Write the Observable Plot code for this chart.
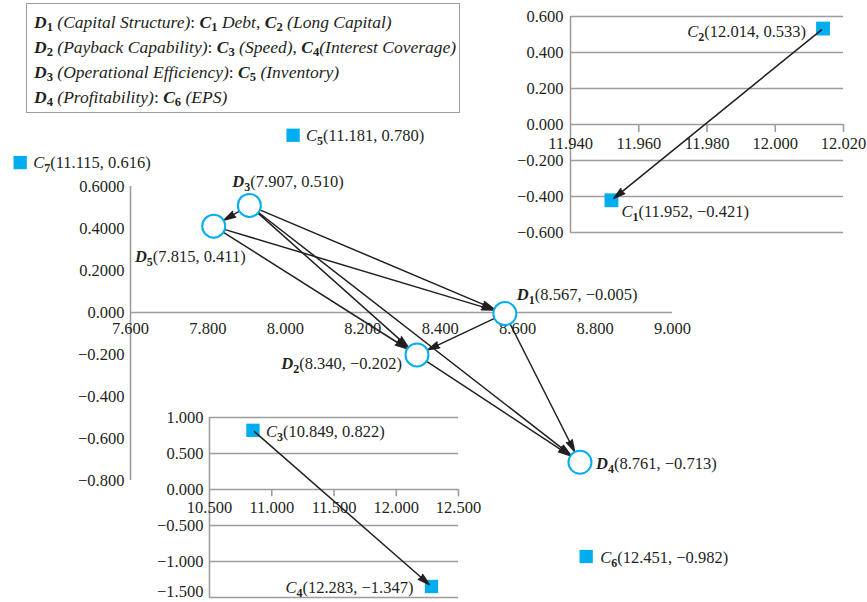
<!DOCTYPE html>
<html><head><meta charset="utf-8">
<script src="https://cdn.jsdelivr.net/npm/d3@7"></script>
<script src="https://cdn.jsdelivr.net/npm/@observablehq/plot@0.6"></script>
<style>
html,body{margin:0;padding:0;background:#fff;}
#wrap{position:relative;width:867px;height:602px;overflow:hidden;font-family:"Liberation Serif",serif;color:#231f20;background:#fff;}
#wrap svg{position:absolute;left:0;top:0;background:transparent;overflow:visible;}
#legend{position:absolute;left:26px;top:3px;width:434px;height:110px;border:1.5px solid #9d9d9d;box-sizing:border-box;padding:6px 0 0 7px;font-size:17.5px;line-height:25px;white-space:nowrap;z-index:2;}
#legend div{height:25px;}
#legend sub{font-size:0.72em;line-height:0;vertical-align:baseline;position:relative;top:0.22em;font-style:normal;}
</style></head><body><div id="wrap"><div id="legend"></div></div>
<script>
// ---------- data ----------
const dimNames = ["D1", "D2", "D3", "D4", "D5"];
const dimX = [8.567, 8.340, 7.907, 8.761, 7.815];
const dimY = [-0.005, -0.202, 0.510, -0.713, 0.411];
const edgeFrom = ["D3", "D3", "D3", "D3", "D5", "D5", "D1", "D1", "D2"];
const edgeTo   = ["D5", "D1", "D2", "D4", "D1", "D2", "D2", "D4", "D4"];

const c12Names = ["C1", "C2"];
const c12X = [11.952, 12.014];
const c12Y = [-0.421, 0.533];

const c34Names = ["C3", "C4"];
const c34X = [10.849, 12.283];
const c34Y = [0.822, -1.347];

const looseNames = ["C5", "C7", "C6"];
const looseX = [11.181, 11.115, 12.451];
const looseY = [0.780, 0.616, -0.982];

// tick values and labels
const mainXTicks = [7.6, 7.8, 8.0, 8.2, 8.4, 8.6, 8.8, 9.0];
const mainXTickLabels = ["7.600", "7.800", "8.000", "8.200", "8.400", "8.600", "8.800", "9.000"];
const mainYTicks = [0.6, 0.4, 0.2, 0, -0.2, -0.4, -0.6, -0.8];
const mainYTickLabels = ["0.6000", "0.4000", "0.2000", "0.000", "\u22120.200", "\u22120.400", "\u22120.600", "\u22120.800"];

const trXTicks = [11.94, 11.96, 11.98, 12.00, 12.02];
const trXTickLabels = ["11.940", "11.960", "11.980", "12.000", "12.020"];
const trYTicks = [0.6, 0.4, 0.2, 0, -0.2, -0.4, -0.6];
const trYTickLabels = ["0.600", "0.400", "0.200", "0.000", "\u22120.200", "\u22120.400", "\u22120.600"];

const blXTicks = [10.5, 11.0, 11.5, 12.0, 12.5];
const blXTickLabels = ["10.500", "11.000", "11.500", "12.000", "12.500"];
const blYTicks = [1.0, 0.5, 0, -0.5, -1.0, -1.5];
const blYTickLabels = ["1.000", "0.500", "0.000", "\u22120.500", "\u22121.000", "\u22121.500"];

// legend text
const legendDims = ["D1", "D2", "D3", "D4"];
const legendDimNames = ["Capital Structure", "Payback Capability", "Operational Efficiency", "Profitability"];
const legendCriteria = [["C1", "C2"], ["C3", "C4"], ["C5"], ["C6"]];
const legendCritNames = [["Debt", "(Long Capital)"], ["(Speed)", "(Interest Coverage)"], ["(Inventory)"], ["(EPS)"]];

// ---------- layout / style ----------
const W = 867, H = 602;
const ink = "#231f20", gray = "#9d9d9d", cyan = "#00aeef";
const FONT = "Liberation Serif", FS = 16.5;
// where the free-standing criteria sit, expressed in the main chart frame
const loosePlace = {C5: [8.020, 0.844], C7: [7.315, 0.714], C6: [8.777, -1.162]};
// label placement: [textAnchor, dx, dy]
const labelPlace = {
  D1: ["start", 12, -19], D2: ["end", -15, 9], D3: ["start", -17, -24], D4: ["start", 16, 1], D5: ["end", 32, 31],
  C1: ["start", 10, 11], C2: ["end", -17, 3], C3: ["start", 13, 1], C4: ["end", -18, 1],
  C5: ["start", 13, 0], C6: ["start", 14, 1], C7: ["start", 13, 0]
};

const fmt = d3.format(".3f");
const mk = (names, xs, ys) => names.map((n, i) => ({name: n, x: xs[i], y: ys[i], label: `${n}(${fmt(xs[i])}, ${fmt(ys[i])})`}));
const dims = mk(dimNames, dimX, dimY);
const dimBy = new Map(dims.map(d => [d.name, d]));
const edges = edgeFrom.map((f, i) => ({a: dimBy.get(f), b: dimBy.get(edgeTo[i])}));
const c12 = mk(c12Names, c12X, c12Y);
const c34 = mk(c34Names, c34X, c34Y);
const loose = mk(looseNames, looseX, looseY).map(d => ({...d, px: loosePlace[d.name][0], py: loosePlace[d.name][1]}));

// Plot's dx/dy are constants, so make one text mark per label
function labels(data, xk, yk) {
  return data.map(d => {
    const [anchor, dx, dy] = labelPlace[d.name];
    return Plot.text([d], {x: xk, y: yk, text: "label", textAnchor: anchor, dx, dy, fontSize: FS, fill: ink, fontFamily: FONT});
  });
}

const common = {width: W, height: H, style: {fontFamily: FONT, fontSize: FS + "px", color: ink, background: "transparent", overflow: "visible"}};

// ---------- main chart ----------
const main = Plot.plot({
  ...common,
  marginLeft: 130, marginRight: W - 672, marginTop: 186, marginBottom: H - 480,
  x: {domain: [7.6, 9.0], axis: null},
  y: {domain: [-0.8, 0.6], axis: null},
  marks: [
    Plot.ruleY([0], {x1: 7.6, x2: 9.0, stroke: gray, strokeWidth: 1.6}),
    Plot.ruleX([7.6], {y1: -0.8, y2: 0.6, stroke: gray, strokeWidth: 1.6}),
    Plot.text(mainXTicks, {x: d => d, y: 0, text: (d, i) => mainXTickLabels[i], dy: 16, fontSize: FS, fill: ink, fontFamily: FONT}),
    Plot.text(mainYTicks, {x: 7.6, y: d => d, text: (d, i) => mainYTickLabels[i], dx: -6, textAnchor: "end", fontSize: FS, fill: ink, fontFamily: FONT}),
    Plot.arrow(edges, {x1: d => d.a.x, y1: d => d.a.y, x2: d => d.b.x, y2: d => d.b.y,
      insetStart: 12, insetEnd: 12, stroke: ink, fill: ink, strokeWidth: 1.5, headAngle: 30, headLength: 12}),
    Plot.dot(dims, {x: "x", y: "y", r: 11.5, stroke: cyan, fill: "white", strokeWidth: 2}),
    ...labels(dims, "x", "y"),
    Plot.dot(loose, {x: "px", y: "py", symbol: "square", r: 7.5, fill: cyan, stroke: "none"}),
    ...labels(loose, "px", "py")
  ]
});

// ---------- top-right inset (C1, C2) ----------
const tr = Plot.plot({
  ...common,
  marginLeft: 570, marginRight: W - 843, marginTop: 16, marginBottom: H - 232,
  x: {domain: [11.94, 12.02], axis: null},
  y: {domain: [-0.6, 0.6], axis: null},
  marks: [
    Plot.ruleY(trYTicks, {x1: 11.94, x2: 12.02, stroke: gray, strokeWidth: 1.6}),
    Plot.ruleX([11.94], {y1: -0.6, y2: 0.6, stroke: gray, strokeWidth: 1.6}),
    Plot.ruleX(trXTicks.slice(1), {y1: 0, y2: -0.045, stroke: gray, strokeWidth: 1.6}),
    Plot.text(trXTicks, {x: d => d, y: 0, text: (d, i) => trXTickLabels[i], dy: 19, fontSize: FS, fill: ink, fontFamily: FONT}),
    Plot.text(trYTicks, {x: 11.94, y: d => d, text: (d, i) => trYTickLabels[i], dx: -7, textAnchor: "end", fontSize: FS, fill: ink, fontFamily: FONT}),
    Plot.dot(c12, {x: "x", y: "y", symbol: "square", r: 7.8, fill: cyan, stroke: "none"}),
    Plot.arrow([c12], {x1: d => d[1].x, y1: d => d[1].y, x2: d => d[0].x, y2: d => d[0].y,
      insetStart: 2, insetEnd: 3, stroke: ink, fill: ink, strokeWidth: 1.5, headAngle: 30, headLength: 12}),
    ...labels(c12, "x", "y")
  ]
});

// ---------- bottom-left inset (C3, C4) ----------
const blLast = blYTicks.length - 1;
const bl = Plot.plot({
  ...common,
  marginLeft: 209, marginRight: W - 458, marginTop: 417, marginBottom: H - 597,
  x: {domain: [10.5, 12.5], axis: null},
  y: {domain: [-1.5, 1.0], axis: null},
  marks: [
    Plot.ruleY(blYTicks, {x1: 10.5, x2: 12.5, stroke: gray, strokeWidth: 1.6}),
    Plot.ruleX([10.5], {y1: -1.5, y2: 1.0, stroke: gray, strokeWidth: 1.6}),
    Plot.ruleX(blXTicks.slice(1), {y1: 0, y2: -0.1, stroke: gray, strokeWidth: 1.6}),
    Plot.text(blXTicks, {x: d => d, y: 0, text: (d, i) => blXTickLabels[i], dy: 18, fontSize: FS, fill: ink, fontFamily: FONT}),
    Plot.text(blYTicks.slice(0, blLast), {x: 10.5, y: d => d, text: (d, i) => blYTickLabels[i], dx: -6, textAnchor: "end", fontSize: FS, fill: ink, fontFamily: FONT}),
    // lowest label nudged up so it stays inside the picture
    Plot.text([blYTicks[blLast]], {x: 10.5, y: d => d, text: () => blYTickLabels[blLast], dx: -6, dy: -6, textAnchor: "end", fontSize: FS, fill: ink, fontFamily: FONT}),
    Plot.dot(c34, {x: "x", y: "y", symbol: "square", r: 7.5, fill: cyan, stroke: "none"}),
    Plot.arrow([c34], {x1: d => d[0].x, y1: d => d[0].y, x2: d => d[1].x, y2: d => d[1].y,
      insetStart: 2, insetEnd: 3, stroke: ink, fill: ink, strokeWidth: 1.5, headAngle: 30, headLength: 12}),
    ...labels(c34, "x", "y")
  ]
});

// ---------- rich text for "D3(…)" style labels ----------
const NS = "http://www.w3.org/2000/svg";
function richLabels(svg) {
  svg.querySelectorAll("text").forEach(t => {
    if (t.querySelector("tspan")) return;
    const m = t.textContent.match(/^([CD])(\d)(\(.*\))$/);
    if (!m) return;
    t.textContent = "";
    const a = document.createElementNS(NS, "tspan");
    a.textContent = m[1]; a.setAttribute("font-style", "italic");
    if (m[1] === "D") a.setAttribute("font-weight", "bold");
    const b = document.createElementNS(NS, "tspan");
    b.textContent = m[2]; b.setAttribute("font-weight", "bold"); b.setAttribute("font-size", "12"); b.setAttribute("dy", "4");
    const c = document.createElementNS(NS, "tspan");
    c.textContent = m[3]; c.setAttribute("dy", "-4");
    t.append(a, b, c);
  });
}

const wrap = document.getElementById("wrap");
[main, tr, bl].forEach(svg => { richLabels(svg); wrap.appendChild(svg); });

// ---------- legend box ----------
const sym = n => `<b><i>${n[0]}</i><sub>${n.slice(1)}</sub></b>`;
document.getElementById("legend").innerHTML = legendDims.map((d, i) => {
  const crits = legendCriteria[i].map((c, j) => `${sym(c)}${i === 1 && j === 1 ? "" : "&nbsp;"}<i>${legendCritNames[i][j]}</i>`).join(", ");
  return `<div>${sym(d)} <i>(${legendDimNames[i]})</i>: ${crits}</div>`;
}).join("");
</script></body></html>
